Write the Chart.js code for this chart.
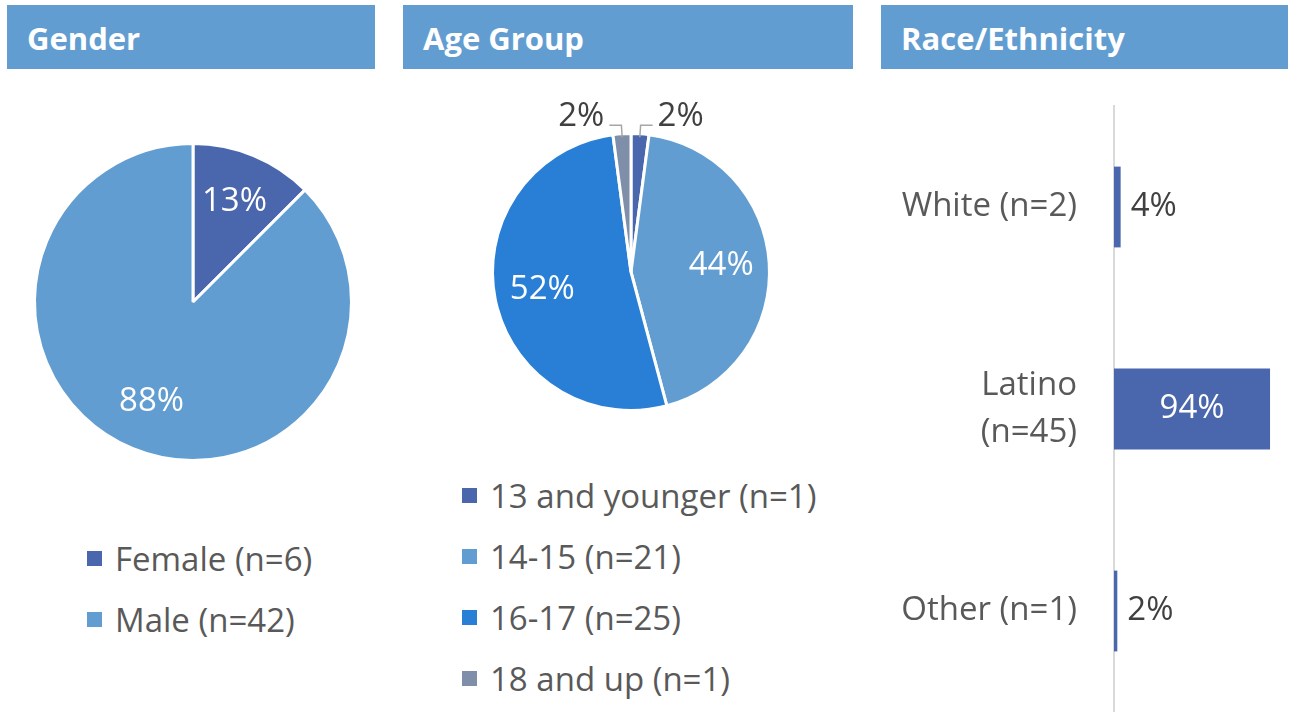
<!DOCTYPE html>
<html>
<head>
<meta charset="utf-8">
<script src="https://cdn.jsdelivr.net/npm/chart.js@4.4.1/dist/chart.umd.min.js"></script>
<style>
  html, body { margin: 0; padding: 0; background: #fff; }
  body { position: relative; width: 1293px; height: 712px; overflow: hidden; font-family: "Open Sans", sans-serif; }
  .hdr { position: absolute; top: 5px; height: 64px; background: #629DD1; color: #fff; font-weight: 700;
         font-size: 31px; line-height: 64px; padding-top: 1px; box-sizing: border-box; padding-left: 20px; white-space: nowrap; }
  canvas { position: absolute; }
  .legend { position: absolute; font-size: 33px; color: #595959; }
  .legend .row { display: flex; align-items: center; height: 61px; white-space: nowrap; }
  .legend .sw { width: 15px; height: 15px; margin-right: 13px; flex: none; }
</style>
</head>
<body>
<div class="hdr" style="left:7px;width:368px;">Gender</div>
<div class="hdr" style="left:403px;width:450px;">Age Group</div>
<div class="hdr" style="left:881px;width:407px;">Race/Ethnicity</div>

<canvas id="gender" width="386" height="444" style="left:0;top:80px;"></canvas>
<canvas id="age" width="300" height="360" style="left:481px;top:92px;"></canvas>
<canvas id="race" width="412" height="612" style="left:881px;top:100px;"></canvas>

<div class="legend" id="genderLegend" style="left:87px;top:528px;"></div>
<div class="legend" id="ageLegend" style="left:462px;top:465px;"></div>

<script>
// Gender breakdown (counts)
const genderLabels = ['Female (n=6)', 'Male (n=42)'];
const genderCounts = [6, 42];
const genderColors = ['#4A66AC', '#629DD1'];

// Age group breakdown (counts)
const ageLabels = ['13 and younger (n=1)', '14-15 (n=21)', '16-17 (n=25)', '18 and up (n=1)'];
const ageCounts = [1, 21, 25, 1];
const ageColors = ['#4A66AC', '#629DD1', '#297FD5', '#7F8FA9'];

// Race/ethnicity shares (percent)
const raceLabels = [['White (n=2)'], ['Latino', '(n=45)'], ['Other (n=1)']];
const raceShares = [4, 94, 2];
const raceColor = '#4A66AC';

const FONT = '"Open Sans", sans-serif';
const LABEL_SIZE = 33;

// Percent labels on pie slices: large slices inside, thin slices outside with a leader line
const sliceLabels = {
  id: 'sliceLabels',
  afterDatasetsDraw(chart, args, opts) {
    const ctx = chart.ctx;
    const data = chart.data.datasets[0].data;
    const total = data.reduce((a, b) => a + b, 0);
    const meta = chart.getDatasetMeta(0);
    ctx.save();
    ctx.font = LABEL_SIZE + 'px ' + FONT;
    meta.data.forEach((arc, i) => {
      const p = arc.getProps(['x', 'y', 'startAngle', 'endAngle', 'outerRadius'], true);
      const share = data[i] / total;
      const text = Math.round(share * 100) + '%';
      const mid = (p.startAngle + p.endAngle) / 2;
      const c = Math.cos(mid), s = Math.sin(mid);
      const R = p.outerRadius - 1.5;
      if (share >= 0.05) {
        const r = R * (opts.inset || 0.68);
        ctx.fillStyle = '#FFFFFF';
        ctx.textAlign = 'center';
        ctx.textBaseline = 'middle';
        ctx.fillText(text, p.x + c * r, p.y + s * r);
      } else {
        const dir = c >= 0 ? 1 : -1;
        const x0 = p.x + c * (R - 2), y0 = p.y + s * (R - 2);
        const x1 = p.x + c * (R + 10), y1 = p.y + s * (R + 10);
        const x2 = x1 + dir * 12;
        ctx.strokeStyle = '#A6A6A6';
        ctx.lineWidth = 1.5;
        ctx.beginPath();
        ctx.moveTo(x0, y0);
        ctx.lineTo(x1, y1);
        ctx.lineTo(x2, y1);
        ctx.stroke();
        ctx.fillStyle = '#404040';
        ctx.textAlign = dir > 0 ? 'left' : 'right';
        ctx.textBaseline = 'alphabetic';
        ctx.fillText(text, x2 + dir * 5, y1 + 1);
      }
    });
    ctx.restore();
  }
};

// Percent labels on bars: inside (white) for long bars, after the bar end otherwise
const barLabels = {
  id: 'barLabels',
  afterDatasetsDraw(chart) {
    const ctx = chart.ctx;
    const data = chart.data.datasets[0].data;
    const meta = chart.getDatasetMeta(0);
    ctx.save();
    ctx.font = LABEL_SIZE + 'px ' + FONT;
    ctx.textBaseline = 'middle';
    meta.data.forEach((bar, i) => {
      const p = bar.getProps(['x', 'y', 'base'], true);
      const text = data[i] + '%';
      if (data[i] >= 50) {
        ctx.fillStyle = '#FFFFFF';
        ctx.textAlign = 'center';
        ctx.fillText(text, (p.x + p.base) / 2, p.y);
      } else {
        ctx.fillStyle = '#404040';
        ctx.textAlign = 'left';
        ctx.fillText(text, p.x + 10, p.y);
      }
    });
    ctx.restore();
  }
};

function pieConfig(labels, counts, colors, radius, inset) {
  return {
    type: 'pie',
    data: {
      labels: labels,
      datasets: [{
        data: counts,
        backgroundColor: colors,
        borderColor: '#FFFFFF',
        borderWidth: 3,
        radius: radius
      }]
    },
    options: {
      responsive: false,
      animation: false,
      events: [],
      layout: { padding: 0 },
      plugins: {
        legend: { display: false },
        tooltip: { enabled: false },
        sliceLabels: { inset: inset }
      }
    },
    plugins: [sliceLabels]
  };
}

new Chart(document.getElementById('gender'), pieConfig(genderLabels, genderCounts, genderColors, 158.5, 0.69));
new Chart(document.getElementById('age'), pieConfig(ageLabels, ageCounts, ageColors, 138.5, 0.66));

new Chart(document.getElementById('race'), {
  type: 'bar',
  data: {
    labels: raceLabels,
    datasets: [{
      data: raceShares,
      backgroundColor: raceColor,
      borderWidth: 0,
      categoryPercentage: 1,
      barPercentage: 0.4
    }]
  },
  options: {
    indexAxis: 'y',
    responsive: false,
    animation: false,
    events: [],
    layout: { padding: { top: 6, right: 13, bottom: 0, left: 0 } },
    plugins: { legend: { display: false }, tooltip: { enabled: false } },
    scales: {
      x: { display: false, min: 0, max: 100 },
      y: {
        grid: { display: false, drawTicks: false },
        border: { display: true, color: '#D9D9D9', width: 2 },
        ticks: { color: '#595959', font: { family: FONT, size: LABEL_SIZE, lineHeight: 1.4 }, padding: 37 },
        afterFit(scale) {
          scale.width = 233;
          scale.paddingTop = 0;
          scale.paddingBottom = 0;
        }
      }
    }
  },
  plugins: [barLabels]
});

// Legends built from the same label/colour arrays
function buildLegend(el, labels, colors) {
  labels.forEach((t, i) => {
    const row = document.createElement('div');
    row.className = 'row';
    const sw = document.createElement('span');
    sw.className = 'sw';
    sw.style.background = colors[i];
    const tx = document.createElement('span');
    tx.textContent = t;
    row.appendChild(sw);
    row.appendChild(tx);
    el.appendChild(row);
  });
}
buildLegend(document.getElementById('genderLegend'), genderLabels, genderColors);
buildLegend(document.getElementById('ageLegend'), ageLabels, ageColors);
</script>
</body>
</html>
